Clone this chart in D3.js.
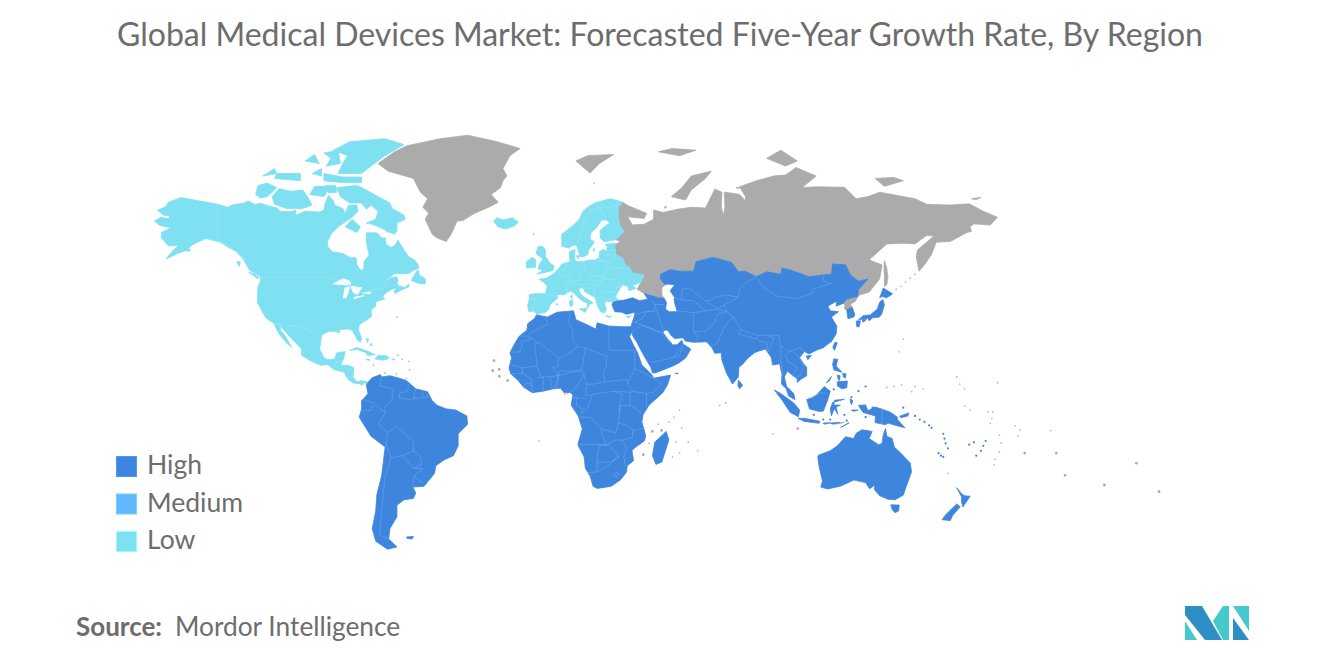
<!DOCTYPE html>
<meta charset="utf-8">
<style>
body { margin:0; background:#fff; overflow:hidden; }
text { font-family: Lato, "Open Sans", sans-serif; fill:#6d6d6d; }
</style>
<body>
<svg id="map" width="1320" height="665"></svg>
<script src="https://cdn.jsdelivr.net/npm/d3@7"></script>
<script>

var titleText = "Global Medical Devices Market: Forecasted Five-Year Growth Rate, By Region";
var legendLabels = ["High", "Medium", "Low"];
var legendColors = ["#3e85de", "#64b8ff", "#7fe0f2"];

var lowRegions = [
  // north america
  [[-168,65.6],[-165,66.5],[-162,66.1],[-161.5,66.9],[-164,67],[-166.7,68.3],[-163.5,69],[-162,70.2],[-156.7,71.3],[-152,70.8],[-148,70.4],[-141,69.7],[-137,69],[-134.5,69.6],[-130,70],[-128,70.5],[-125,69.6],[-123,70],[-120,69.4],[-116,68.8],[-114.5,68],[-110,67.9],[-108,68.3],[-108,67],[-104,68],[-98,67.8],[-96,68.3],[-95.5,70],[-94,71.8],[-92,70.5],[-91.5,69.5],[-88,68.7],[-87,67.5],[-85.5,69.5],[-82,69.5],[-81.5,68],[-84,66.5],[-87,65.3],[-90,64],[-93,62],[-94.5,60],[-94.5,58.7],[-92.5,57],[-88,56.5],[-85,55.3],[-82.3,55.2],[-82,53],[-80.5,51.3],[-79,51.5],[-79,54],[-76.8,56],[-77.5,58],[-78,60],[-78,62.4],[-73.5,62.4],[-71.5,61],[-70,61],[-69.5,59],[-67.5,58.3],[-66,58.8],[-64.5,60.3],[-62,57.5],[-60,55.5],[-57.5,54.5],[-56,53],[-55.7,52],[-58,51.2],[-60,50.2],[-66,50.2],[-69,48.5],[-71,46.8],[-68,48.8],[-65,49.2],[-64.5,48],[-65,47],[-64,46],[-61.5,45.7],[-60,46.8],[-60,45.8],[-63.5,44.6],[-65.8,43.5],[-66.2,44.5],[-64.5,45.5],[-67,45],[-69,44],[-70.5,43.2],[-71,42],[-70,41.7],[-74,40.6],[-74,39],[-75.5,38],[-76,37],[-75.7,35.3],[-77.5,34],[-79,33.3],[-81,32],[-81.3,30],[-80,26.8],[-80.5,25.2],[-81.7,26],[-82.8,28],[-84,30],[-86,30.4],[-89.5,30.2],[-89.3,29],[-91.5,29.5],[-94,29.6],[-97,28],[-97.3,25.5],[-97.8,22.5],[-96,19],[-94.5,18.2],[-91.5,18.5],[-90.5,21],[-87,21.5],[-87.5,19],[-88.2,17.5],[-88.8,15.9],[-86,15.9],[-83.3,15],[-83.6,11],[-82,9],[-79.7,9.5],[-77.4,8.7],[-77.9,7.2],[-78.8,8.8],[-80,7.3],[-80.5,8.2],[-83,8.2],[-85.7,10],[-87.5,13],[-91.5,14],[-94.5,16.2],[-97,15.8],[-101.5,17.6],[-105.5,20],[-105.5,22.5],[-109,26],[-112.5,29.5],[-114.7,31.7],[-114.4,30],[-112.5,27.8],[-110.5,24.5],[-109.5,23.2],[-112,25],[-115,28.5],[-116.5,31],[-117.1,32.5],[-120.5,34.5],[-122.5,37.5],[-124.3,40.5],[-124,46],[-122.8,48],[-123,49.2],[-125,50.3],[-127.5,51.2],[-130,54.5],[-133,57],[-137,58.5],[-140,59.8],[-146,60.8],[-149,60],[-152,59],[-154,57.5],[-158,56.5],[-163,54.8],[-160,57.5],[-157.5,58.8],[-162,58.7],[-165,61],[-165,62.5],[-161,63.7],[-166,64.5]],
  // arctic islands
  [[-90.5,73.5],[-86,73.8],[-82,74],[-78,73],[-72,71.2],[-68,70],[-67,68.7],[-62,67],[-61.5,66],[-65,65],[-65,63],[-66,62],[-69,62.7],[-71,63.5],[-75,64.6],[-78,65],[-74,66],[-73,68],[-76,69.5],[-78,70],[-85,70],[-89,71.5]],
  [[-117,69.7],[-112,68.7],[-105,68.7],[-101,69.5],[-103,71.5],[-105,73],[-110,72.7],[-115,73.3],[-118,71.5]],
  [[-125,72],[-123,71.2],[-120,71.5],[-116,73.5],[-120,74.5],[-124,74]],
  [[-90,76.5],[-80,76.5],[-76,78],[-70,80],[-62,82],[-70,83],[-85,82.5],[-92,81],[-86,80],[-88,78.5]],
  [[-96,75],[-88,74.6],[-80,74.6],[-80,75.8],[-88,75.8],[-96,76.5]],
  [[-95,78],[-89,78.5],[-90,81],[-96,80.5],[-93,79.5]],
  [[-117,75.5],[-106,75],[-106,76.5],[-116,76.5]],
  [[-102,72],[-96,71.5],[-93,73.8],[-100,73.8]],
  [[-95,74],[-91,74],[-90.5,72.5],[-94,72.3]],
  [[-87,64],[-82,62.5],[-80.5,64],[-84,66]],
  [[-104,79],[-98,78.5],[-100,80.2]],
  [[-122,76],[-116,76.5],[-117,77.5]],
  [[-101,76.5],[-97,76],[-97,77.5]],
  [[-80,70],[-76,69.5],[-78,68.5]],
  [[-59,48],[-57,50.5],[-56,51.5],[-55.5,49.8],[-53,48.5],[-53,46.8],[-55.5,46.9]],
  [[-128,50.7],[-124,48.5],[-123.5,48.8],[-125,50]],
  [[-133,54],[-131.5,54],[-132,52.5]],
  [[-154,58],[-152.5,57.5],[-154,57]],
  // caribbean
  [[-85,22],[-82,23.1],[-77,21.5],[-74.2,20.2],[-77.5,19.9],[-78,21],[-82,22.3]],
  [[-74.4,18.5],[-73,20],[-69,19.7],[-68.4,18.6],[-71,18],[-72,18.1]],
  [[-78.3,18.4],[-76.3,18.2],[-77,17.8]],
  [[-67.2,18.5],[-65.7,18.3],[-66.8,18]],
  [[-78,26.7],[-77,26.5],[-77.5,25]],
  [[-76,24.8],[-75.5,24],[-76.5,24]],
  // europe
  [[-5.5,36],[-7,37.2],[-9,37],[-9.5,39],[-8.8,41.5],[-8.8,43.2],[-5,43.5],[-2,43.4],[-1.2,46],[-2.5,47.3],[-4.7,48.4],[-1.5,48.7],[0,49.4],[1.5,50.2],[3,51.3],[4,52],[5,53.3],[8.5,54],[8.2,57],[10.6,57.7],[10.5,54.8],[11,54],[14,54],[16.5,54.5],[19,54.5],[21,55.2],[21,57],[22.6,57.7],[24,57.2],[24.3,58.3],[23.5,59.2],[28,59.5],[27.5,59],[28,56.2],[31,55],[32,53],[34,52],[35,50.5],[40,49.7],[38.5,47.3],[35,46.3],[36.5,45.3],[33.5,44.5],[33,46],[30.8,46.5],[29.7,45.2],[28.5,43.5],[27.7,42.5],[29,41.2],[26.3,40.6],[24,40.8],[23,40],[24,38],[23,36.5],[21.5,37],[20,39.5],[19.4,41.5],[19,42.2],[15,44],[13.7,45.6],[12.3,45.2],[12.5,44],[14,42.5],[16,41.5],[18.4,40.2],[16.8,39.7],[15.7,38],[16,40],[14,40.8],[12,42],[10.3,43.5],[8.7,44.4],[6,43.1],[3.2,43.2],[3.2,41.9],[0,39.5],[-0.6,37.7],[-2,36.8]],
  // scandinavia
  [[5,58.5],[5,60.5],[5,62],[8,63.5],[10,64.5],[12.5,66],[14,68],[16,69],[19,70],[22,70.5],[25.5,71],[31,70.2],[29,69],[29,66],[30,64],[31.5,62.8],[28,60.5],[23,59.9],[21.3,61],[21.3,63],[23,64],[25.3,65],[24,65.8],[22,65.8],[20,64],[17.5,62.5],[17,60.7],[18.8,59.8],[16.5,57.5],[16,56.2],[14.3,55.5],[12.8,55.5],[11.2,59],[9.5,58.8],[8,58.1],[5.7,58.5]],
  [[-24,65.5],[-22,64],[-19,63.4],[-15,64.3],[-13.5,65.2],[-16,66.4],[-20,65.8],[-22.5,66.4]],
  [[-5.5,50],[1.3,51.2],[1.7,52.7],[0,53.5],[-1.8,55.5],[-2,57.6],[-3.2,58.6],[-5,58.6],[-6,56.5],[-3,54.8],[-4.5,53.3],[-5,51.7],[-3,51.3]],
  [[-10,52],[-6.2,52.2],[-6,54.5],[-7.5,55.3],[-10,54]],
  [[11,55.7],[12.5,56],[12,54.9]],
  [[12.5,38],[15.6,38.2],[15,36.7]],
  [[8.3,41],[9.7,41],[9.5,39.1],[8.5,39]],
  [[8.7,42.6],[9.5,43],[9.3,41.4]],
  [[2.4,39.9],[3.4,39.8],[3,39.3]],
  [[23.6,35.5],[26.2,35.2],[24.7,34.9]],
  [[18.3,57.8],[19,57.9],[18.6,57]],
  [[32.3,35],[34.5,35.6],[33.5,34.7]]
];

var highRegions = [
  // asia
  [[124.4,40],[121.5,39],[121.8,40.8],[119.5,39.8],[118,39],[119,37.3],[122.5,37],[119.5,35],[120.8,33],[121.8,31.5],[121.5,28.5],[119.5,25.5],[118,24.5],[116,23],[113.5,22.2],[110,20.5],[108,21.5],[106,19],[107.5,16.7],[109,15],[109,11.5],[106.5,10],[105,8.7],[105,10.3],[102.5,12],[100.8,13.5],[99.5,11],[100.5,7],[103.5,4],[104,1.4],[101.3,3],[100.3,6],[98.3,8],[98.5,12],[97.5,16.5],[94.5,16],[94,19],[91.5,22.5],[89,21.8],[86.8,21],[84,18.8],[82,16.5],[80.2,15],[80,11],[77.5,8],[75,12.5],[73,18],[72.7,21],[70,20.8],[68.8,23],[66.5,25.4],[61,25.2],[57.5,25.7],[56.5,27],[53,26.7],[51.5,27.8],[50,30],[48.5,30],[48,29],[50,26.5],[51.5,25],[51.6,24.2],[54,24.2],[56,26],[56.5,24.5],[59.8,22.5],[57.7,19],[55,17],[52,15.5],[45,12.8],[43.5,12.7],[42.8,15],[41,18],[39.2,21],[37,25],[35,28],[34.9,29.5],[34.3,31.3],[35.9,35.5],[36,36.8],[32.5,36],[30.5,36.8],[27.5,37],[26.3,39.5],[26.7,40.4],[29,41],[31.5,41.2],[35,42],[38,41],[41.5,41.5],[40,43.5],[46,42],[48.5,41.8],[49.5,40.3],[49,38],[50.5,37],[54,37],[53,40],[52.7,41.5],[53,42],[51,44.5],[53,46.5],[50,46.8],[49,46.5],[46.8,48.5],[47,50],[51,51.5],[55,51],[61,51],[62,54],[69,55.3],[71,55],[77,53.8],[80,50.8],[83,51],[87.5,49.2],[92,50.8],[98,50],[98.5,52],[102,51.4],[106,50.3],[110,49.2],[116,49.8],[119.5,50],[120,53.3],[125.5,53],[127.5,49.8],[131,47.7],[135,48.4],[131,44.9],[130.7,42.5],[128,42],[126,41.5]],
  // africa
  [[-5.8,35.8],[-1,35],[3,36.8],[10,37.3],[11,34],[15,32.4],[19.5,30.4],[20,32.8],[25,31.6],[31,31.3],[34.3,31.3],[34.9,29.5],[34,27.8],[33,28.8],[32.5,29.9],[33.5,28],[35.5,24],[37.2,21],[39,16],[43.2,12],[44,10.5],[51.2,11.8],[50,8],[48,4.5],[42,-1],[39.5,-5],[39,-8],[40.7,-14],[40,-16],[36,-18.8],[34.8,-20],[35.5,-24],[32.8,-26],[32.5,-28.5],[30,-31.5],[26,-34],[20,-34.8],[18.3,-34],[17,-30],[15,-27],[14.5,-22.5],[11.8,-17.5],[13.7,-11],[12,-5.5],[9,-1],[9.7,3.5],[8.5,4.5],[6,4.3],[4.5,6.3],[1,5.9],[-3,5],[-7.5,4.4],[-11.3,6.8],[-13.5,9.5],[-16.7,12.4],[-17.4,14.7],[-16.3,19],[-17,21],[-15,24.7],[-13,27.7],[-9.8,30],[-9.5,32.5],[-6.5,34.5]],
  // south america
  [[-77.4,8.7],[-75.5,10.7],[-72,12],[-71.5,11],[-68,11.5],[-64,10.5],[-61,9.5],[-57,6],[-52,4.8],[-50,1],[-48,-1],[-44,-2.5],[-40,-3],[-35.3,-5.5],[-35,-9],[-39,-13],[-39,-18],[-41,-22],[-45,-23.7],[-48.5,-26],[-49,-29],[-53.5,-34],[-58.3,-34.3],[-57,-36.5],[-58,-38.5],[-62,-39],[-65,-41],[-65,-45],[-68,-49],[-68.5,-52.3],[-65,-54.8],[-69,-55.5],[-74,-53],[-75.5,-49],[-74,-43],[-73.5,-37],[-71.5,-30],[-70,-18.5],[-76,-14],[-81,-6],[-80,-2.5],[-80,1],[-78.5,2.5],[-77.3,4],[-77.9,7.2]],
  [[-61,-51.7],[-58,-51.5],[-58.5,-52.3],[-60.5,-52.2]],
  [[49.3,-12],[50.5,-15.5],[47.5,-24.5],[45,-25.5],[43.5,-22],[44.5,-16.5]],
  [[80,9.7],[81.8,7.5],[80.5,6],[79.8,7.5]],
  [[53.3,12.7],[54.5,12.5],[53.5,12.3]],
  // japan, korea, taiwan, hainan
  [[131,34],[133,35.5],[136,35.8],[139,38],[140,40.5],[141.3,41.4],[142,39.5],[140.8,36],[139.8,35],[137,34.7],[135.5,33.6],[135,34.6],[132.5,34.2]],
  [[140,42],[141.5,45.4],[145.5,43.4],[143,42],[141,42.5]],
  [[130,33.5],[131.8,33.6],[131.3,31.3],[130.3,31.3]],
  [[132.5,34],[134.5,34.2],[133,33]],
  [[126,37.7],[128.3,38.6],[129.4,36],[129,35],[126.5,34.4]],
  [[121,25.2],[122,25],[120.8,22],[120.1,23.3]],
  [[108.8,19.7],[111,19.9],[109.5,18.2]],
  // south east asia
  [[120.5,18.5],[122.2,18.4],[121.5,15.5],[124,13],[120.6,13.9],[120,16.2]],
  [[122,9],[126.3,9.3],[126,6.5],[124,6],[122,7.2]],
  [[117.3,8.5],[119.5,11.2],[118.7,9.5]],
  [[124.3,12.5],[125.7,12.3],[125.4,10.5],[124.6,11]],
  [[122,11.8],[123.2,11.5],[122.9,9.5],[122.3,10.2]],
  [[109,1.5],[111,2],[113,3.2],[116.5,7],[119,5],[117.8,1],[116,-3.5],[114,-3.5],[110.2,-2.5]],
  [[95.3,5.5],[98,4],[103.5,0],[106,-3],[105.5,-5.8],[102,-4],[98.7,1]],
  [[105.3,-6.5],[108,-6.5],[114.5,-7.7],[114.3,-8.6],[108,-7.8]],
  [[119.5,-5.5],[120.4,-3],[121,-2.7],[122.2,-4.8],[121.5,-1.7],[123.3,-0.9],[120.5,-0.9],[120.8,1.2],[125,1.6],[120,0.2],[119,-2.5]],
  [[116,-8.5],[119,-8.4],[116.5,-9]],
  [[119,-8.5],[123,-8.2],[120,-8.9]],
  [[123.5,-10.3],[127,-8.4],[124.3,-9.9]],
  [[127.5,1.8],[128.6,1],[128,-0.7],[127.6,0.4]],
  [[127.9,-3],[130.8,-3],[129,-3.5]],
  // new guinea
  [[131,-1],[134,-0.8],[135,-3.3],[138,-1.7],[141,-2.6],[144.5,-3.9],[147.5,-6],[147.5,-7],[150.7,-10.5],[147,-9.5],[143.5,-8.5],[142.5,-9.2],[138,-8.3],[138.2,-5.5],[133,-4],[132,-2.7]],
  [[148.5,-5.6],[152.3,-4.2],[152,-5.5],[149,-6.2]],
  // australia, nz
  [[113.7,-22.5],[114.2,-26],[115.7,-32],[115,-34.3],[118,-35],[123.5,-33.9],[129,-31.6],[134,-32.6],[135.7,-34.9],[138,-33.5],[137.7,-35.2],[140,-37.5],[143.5,-38.8],[146.5,-39],[150,-37.3],[151.5,-33.5],[153.5,-28.5],[153,-25],[149,-21],[146.2,-18.5],[145.3,-15],[143,-14],[142.5,-10.8],[141.5,-13.5],[141,-17],[139.5,-17.5],[135.5,-15],[136.8,-12],[132.5,-11.3],[130,-12.8],[129,-15],[125.5,-14.2],[122,-18],[119,-20],[114,-21.8]],
  [[144.7,-40.8],[148.3,-40.9],[148,-43],[146.5,-43.6],[145.3,-42.5]],
  [[172.7,-34.5],[174.8,-36.8],[176,-37.5],[178.4,-37.7],[177,-39.5],[175.3,-41.6],[174.8,-39.8],[174.8,-38]],
  [[172.7,-40.5],[174.2,-41.5],[171,-44.5],[170,-46.3],[166.5,-46],[168,-44.3]]
];

var greyRegions = [
  // greenland
  [[-73,78.5],[-68.8,77],[-58,75.5],[-55,72.5],[-52,71],[-54,69],[-51.5,67.5],[-53,66],[-50,62],[-48,61],[-44,60],[-42,62],[-39.5,65.5],[-37,65.7],[-32,67.5],[-26,69],[-22,70.2],[-25,72],[-21,73.5],[-20,75],[-18.3,76],[-20,77.5],[-17,80],[-12.7,81.3],[-22.5,82.5],[-35,83.6],[-46.7,83],[-60.7,81.8],[-66,80.7]],
  // russia
  [[31,70.2],[33,69.4],[41,67.5],[40,66.2],[33,66.6],[35,64.5],[40,64.7],[44,66],[44,68.3],[48,67.7],[54,68.5],[60,69],[66,68.8],[68,71],[70,73.2],[73,72.5],[72.7,69],[73.7,67],[74.3,69],[74,72.5],[77,72.3],[80.5,72],[83,70.5],[83,71.5],[80.5,73.7],[87,74.9],[95,76],[100,76.2],[104.5,77.7],[113,76],[107,73.5],[113,73.7],[125,73.6],[130,71],[135,71.5],[140,72.5],[150,71.5],[155,71],[160,69.7],[170,69.5],[178,69.8],[184,68],[190,66.5],[187,64.5],[180,64.8],[178.3,64],[179,62.8],[177,62.5],[170,60],[164,59.8],[162,56.2],[159,53],[156.7,51],[155.5,55.5],[156,57.5],[163,61.5],[160,61.7],[155,59.3],[150,59.5],[143,59.3],[137,55.5],[135.5,54.7],[138,53.8],[141,53],[140,48.5],[135.5,44],[131.5,43],[130.7,42.5],[131,44.9],[135,48.4],[131,47.7],[127.5,49.8],[125.5,53],[120,53.3],[119.5,50],[116,49.8],[110,49.2],[106,50.3],[102,51.4],[98.5,52],[98,50],[92,50.8],[87.5,49.2],[83,51],[80,50.8],[77,53.8],[71,55],[69,55.3],[62,54],[61,51],[55,51],[51,51.5],[47,50],[46.8,48.5],[49,46.5],[47.5,45.5],[47.5,43],[48.5,41.8],[46,42],[40,43.5],[37,45],[38.5,47.2],[40,49.7],[35,50.5],[34,52],[32,53],[31,55],[28,56.2],[27.5,59],[30,60],[28,60.5],[31.5,62.8],[30,64],[29,66],[29,69]],
  // north korea
  [[130.7,42.4],[129.7,40.8],[127.5,39.7],[128.3,38.6],[126,37.7],[125,38],[125.3,39.5],[124.4,40],[126,41.5],[128,42]],
  [[142,54.3],[143,52],[143.5,49],[143,46.5],[142,46],[142,49],[141.8,52]],
  [[51.5,71.5],[56,73.5],[60,76],[68.5,77],[66,75.5],[60,73],[57.5,70.7]],
  // svalbard, franz josef, severnaya, new siberian, wrangel
  [[11,79],[16,80],[27,80.2],[21,78.5],[17,76.6],[14,77.8]],
  [[46,80.7],[52,81.3],[62,81],[55,80]],
  [[92,79.5],[98,81],[105,79],[100,78]],
  [[138,75.5],[146,75.7],[150,75],[142,73.8]],
  [[179,71],[183,71.3],[181,70.8]],
  [[48.5,69],[49.5,69.2],[49,68.7]],
  [[79,73.5],[81,73.6],[80,73.3]],
  [[120,-8.8],[125,-8.2],[122,-8.9]]
];

var lakes = [
  [[-92,46.8],[-88,48.5],[-85,47.8],[-84.7,46.5],[-87,46.5]],
  [[-87.8,42],[-86.5,42],[-85,45.8],[-87,45.5]],
  [[-84.5,46],[-80,45.5],[-81.7,43.2],[-83.5,43.8]],
  [[-83.3,41.6],[-79,42.8],[-83,42.2]],
  [[-79.5,43.5],[-76.2,43.5],[-76.5,44.2]]
];

var lowBorders = [
  [[-123,49],[-95,49],[-89,48],[-83,46],[-79,43],[-75,45],[-71,45],[-69,47.3],[-67.8,45.7]],
  [[-141,69.7],[-141,60.2],[-137,59],[-130,55]],
  [[-117,32.5],[-108,31.5],[-106.5,31.8],[-101.5,29.7],[-97.2,26]],
  [[-92,14.5],[-91,17],[-89,17.9],[-88.2,16]],
  [[-89,15],[-87.5,13.2]],[[-88.8,15.9],[-85,14],[-83.3,15]],[[-85.7,11],[-83.6,11]],[[-83,8.2],[-82.7,9.5]],
  [[-1.8,43.3],[3,42.4]],[[2.5,51],[6,49.5],[8,49],[7.5,47.5],[6,46],[7.5,43.7]],
  [[-8.8,42],[-6.5,41.7],[-7,39],[-7.4,37.2]],[[7,53.5],[6,51],[6,49.5]],[[9,54.8],[10,54.8]],
  [[14.2,54],[15,51],[12.2,50.3],[13.7,48.6],[10,47.5],[7.5,47.5]],
  [[15,51],[19,49.5],[23,49],[24,50.5],[23.5,54],[19.5,54.4]],
  [[21,56.3],[27,56],[28,56.2]],[[24,57.2],[27.5,57.5]],[[21,55.2],[23.5,54],[26,54],[28,56]],
  [[23.5,52],[31,52]],[[24,50.5],[22,48.3],[27,48.3],[30,46],[28.2,45.5]],
  [[22,48],[20.3,46],[22.5,44.3],[28,43.8]],[[16,48.8],[19,49.5]],[[16,48.8],[17,48],[22,48]],
  [[13.7,46.5],[16,46.8],[20.3,46]],[[7.5,44],[7,46],[10,46.8],[13.7,46.5]],[[13.7,45.5],[16,45.5],[19,45]],
  [[22.5,44.3],[22.5,42],[21,42],[19.4,41.7]],[[22.5,41.3],[26.3,41.5],[28,42]],[[20.5,40],[23,41]],[[19,42.2],[19,45]],
  [[11.2,59],[12.5,61],[14,65],[18,68.5],[21,69]],[[21,69],[24,66]],[[21,69],[25.5,68.9],[29,69.7]],
  [[-6,55],[-7.5,54.2]]
];

var highBorders = [
  [[-1.8,35],[-1.2,32.2],[-5,30.5],[-8.7,28.7]],[[-13,27.7],[-8.7,27.7],[-8.7,26],[-12,26],[-12,23.5],[-13,21.3],[-17,21.3]],
  [[-8.7,27.3],[-4.8,25],[-6.5,25],[-5.5,15.5],[-12,14.8],[-16.5,16]],[[-4.8,25],[1,21],[3.3,19],[4.2,19.2],[5.8,19.5],[12,23.5]],
  [[8.5,37],[8,33],[9.5,30],[10,25.3],[12,23.5]],[[25,31.6],[25,22]],[[25,20],[24,19.5],[15,23],[12,23.5]],[[25,22],[37,22]],
  [[24,19.5],[24,15.7],[22.5,13],[23.5,9]],[[3.3,19],[3.5,15.5],[1,15],[3.6,11.7]],[[15,23],[13.5,14],[3.6,11.7]],
  [[3,6.4],[3.6,11.7],[4,13.5],[13.5,13.5],[14.5,12],[11,6.5],[8.7,4.6]],[[14.5,12],[15.5,8],[18.5,8],[23.5,9]],
  [[12.3,-6],[17,-6],[22,-11],[28,-12.5],[29,-8.5],[29.5,-4.5],[29.5,0],[30.8,3.5],[27,5],[19,3.8],[18,3.5],[16,-2],[13,-4.8]],
  [[15.5,8],[15,3],[18,3.5]],[[9.8,2.3],[15,2]],[[11.3,2.2],[11.3,-1],[14,-2.5],[13,-4.8]],
  [[11.8,-17.3],[24,-17.5],[22,-13],[22,-11]],[[16,-28.7],[20,-28.5],[20,-22],[21,-18],[25,-17.7]],
  [[20,-24.8],[26,-24.5],[29.3,-22.2],[25.3,-17.8]],[[32,-26],[31.3,-22.3],[32.8,-19],[30.5,-15.7],[35,-14.5],[35,-11.5],[40.4,-10.5]],
  [[34,-1],[37.5,-3.3],[39.3,-4.7]],[[29.5,-4.5],[30,-1],[34,-1],[34,4]],[[24,-17.5],[28,-15.5],[30.5,-15.7]],[[29,-8.5],[33,-9.5],[35,-11.5]],
  [[36,14.5],[43,11],[47.5,8],[44,4.5],[41,4],[35,5],[33,8],[36,14.5]],[[41,-1.5],[41,4]],[[27,5],[35,4.5]],[[24,9],[33,10],[33,8]],[[36,22],[36,14.5]],
  [[-16.7,12.4],[-11.5,12.4],[-8,10],[-7.5,4.4]],[[-11.3,6.8],[-10,8.5],[-8,8]],[[-3,5],[-2.8,11],[-5.5,10.5]],[[-12,14.8],[-11.5,12.4]],[[-5.5,15.5],[-4,11.5],[0,11],[3.6,11.7]],[[1,5.9],[0,11]],[[2,6.3],[3.6,11.7]],
  [[27,-29.6],[28.5,-28.6],[29.4,-29.6],[28,-30.6],[27,-29.6]],[[20,-28.5],[25,-25.7],[29.3,-22.2]],
  [[-71.5,11],[-72.5,7.5],[-67,6],[-67,1],[-70,-1.5],[-70,-4.2]],[[-60,8],[-60.5,5],[-64,4],[-64,2],[-59,1.5],[-57,2]],[[-57,6],[-58,2]],[[-54,5.8],[-54,2.3]],[[-52,4],[-52,2.3],[-58,2]],
  [[-79,1.4],[-75,0],[-70,-4.2]],[[-80,-3.5],[-76,-3],[-75,-1]],[[-70,-4.2],[-73,-9],[-70.5,-11],[-69,-12.5],[-69.5,-17.5],[-70.4,-18.4]],
  [[-69,-12.5],[-65,-10],[-60.5,-14],[-58,-16.3],[-58,-20]],[[-69.5,-17.5],[-67.5,-22.8],[-70,-30],[-71,-39],[-72,-47],[-72.5,-51],[-68.5,-52.3]],
  [[-67.5,-22.8],[-62.5,-22],[-58,-20]],[[-62.5,-22],[-58,-27],[-54.5,-25.5],[-55,-22.3],[-58,-20]],[[-58,-27],[-54,-27.2],[-57.8,-30.3],[-58.3,-34]],[[-57.8,-30.3],[-53.5,-33]],
  [[53,42],[56,41.3],[56,45],[59,45.5],[61,44.3],[66,41],[68,41],[71,42.5],[75,43],[80,42.2],[80.5,45],[83,47],[87.5,49.2]],
  [[87.5,49.2],[91,45.5],[96,42.7],[105,41.7],[111.5,43.7],[111.8,45],[119.5,47],[116,47.8],[116,49.8]],
  [[80,42.2],[74,39.5],[75,37],[78,35],[81,30.2],[88,28],[92,28],[97,28],[98,24],[101.5,21.3],[106,23],[108,21.5]],
  [[61,29.5],[66,29.5],[70,33],[71,36],[75,37]],[[61.5,25.2],[63,27],[61,29.5],[61,36.6]],[[68.8,23.8],[71,25],[74.5,32],[78,35]],
  [[44.5,39.7],[46,36],[48,30]],[[54,37.3],[61,36.6],[66,37.3],[61,41],[56,41.3]],[[66,37.3],[71,38],[75,37]],[[66,41],[71,38],[74,39.5]],
  [[39,34.3],[41,37],[44.5,37],[46,36]],[[39,32],[47,29],[48,30]],[[35,29.3],[39,32],[47,29],[51,25]],[[55,22],[52,19],[43,17]],[[52,19],[55,20],[56.5,24.3]],
  [[36,36],[42,37.2],[44.5,37.3],[44.5,39.7],[43.5,41]],[[39,34.3],[36,33],[35.5,33]],[[36,33],[39,32]],[[44.5,39.7],[48.5,39.5]],
  [[88.5,26],[92,25],[92.3,21]],[[81,30.2],[80,28.5],[88,26.5],[88,28]],[[92,28],[95,27],[94,24],[92.3,21]],[[98,24],[98,18],[99,11]],[[101.5,21.3],[100,20],[101,17.5],[105,15],[102.8,11]],[[102,22.3],[105,20],[107.5,16],[106.5,12],[104,10.5]],[[100.3,6.5],[102,6]],
  [[141,-2.6],[141,-9]],[[109.6,2],[115,4.2],[117.5,4.2]]
];

var greyDots = [[150,26.5],[148.3,21.4],[147,45],[149,46],[151,47.5],[153,48.8],[155,50],[143,6.6],[146,7],[149.3,7.7],[155,7],[158.5,6],[153.6,4.8],[172.7,11],[174,8],[176,6],[190,8.6],[176.2,-1.3],[178.4,-3],[186,-3.7],[188,-3.7],[187.6,-6.5],[187,-8.6],[197.5,-9.7],[199.6,-11.4],[198.6,-13.8],[212.6,-11.7],[190.8,-13.6],[191.5,-16.8],[190.8,-20.6],[189,-23.5],[188.5,-25.6],[169,-29],[72,-1],[94.7,-13],[55,-3],[52.6,-6],[55.9,-10.5],[46,-9],[50.5,-8],[42,-17],[62.7,-20],[58.7,-16.5],[55,-21],[52,-22.5],[53.6,-16.5],[74.6,0],[-4.7,-16],[6.4,3.8],[7.5,4],[-65,35],[-64.6,20],[-62.8,18.3],[-60,17.5],[-59.6,14],[-75,16],[-70,12.6],[-65.2,12.2],[-61,10.4],[-7,62],[18.8,74.5]];
var greyBlobs = [[201.6,-21],[215,-21],[218.7,-29.8],[235.4,-33.5],[249,-25],[258.6,-36],[105.2,-10.8],[-23.8,17.8],[-21.6,14.2],[-24.3,13.6],[-21.5,11.3],[-18,9.5],[43.5,-12],[47.4,-11.6],[39.6,-21.6]];
var blueDots = [[134,7],[131,5],[150,-2],[155,-5.5],[157,-7],[159,-8],[161,-9.5],[162,-10.5],[167,-13],[167.5,-15],[168,-17],[169,-19],[165,-21],[166,-22],[167,-22.5],[178,-17.5],[180,-16.5],[181,-22],[183,-20],[184,-18],[185,-16],[120.5,5.8],[128,2.5],[134,-6],[137,-2],[116,-7],[119,-7],[112,-5],[125,-5],[126,-7.5]];

var x = d3.scaleLinear().domain([0, 180]).range([550, 550 + 180 * 2.355]);
var y = d3.scaleLinear().domain([0, 1]).range([403, 403 - 135]);
function miller(lat) {
  var p = lat * Math.PI / 180;
  return 1.25 * Math.log(Math.tan(Math.PI / 4 + 0.4 * p));
}

var proj = d3.geoTransform({
  point: function(lon, lat) { this.stream.point(x(lon), y(miller(lat))); }
});
var path = d3.geoPath(proj);

var svg = d3.select("#map");

function close(ring) { return ring.concat([ring[0]]); }

function drawRegions(rings, color) {
  svg.append("g").selectAll("path").data(rings).enter().append("path")
    .attr("d", function(r) { return path({type: "Polygon", coordinates: [close(r)]}); })
    .attr("fill", color)
    .attr("stroke", color)
    .attr("stroke-linejoin", "round")
    .attr("stroke-width", 0.8);
}

function drawBorders(lines, color) {
  svg.append("path")
    .attr("d", path({type: "MultiLineString", coordinates: lines}))
    .attr("fill", "none")
    .attr("stroke", color)
    .attr("stroke-width", 0.5);
}

function drawDots(points, color, r) {
  path.pointRadius(r);
  svg.append("path")
    .attr("d", path({type: "MultiPoint", coordinates: points}))
    .attr("fill", color);
}

drawRegions(greyRegions, "#ababab");
drawRegions(lowRegions, legendColors[2]);
drawRegions(highRegions, legendColors[0]);
drawRegions(lakes, "#fff");
drawBorders(lowBorders, "#a4e9f6");
drawBorders(highBorders, "#78ace9");
drawDots(greyDots, "#bcbcbc", 0.9);
drawDots(greyBlobs, "#ababab", 1.4);
drawDots(blueDots, legendColors[0], 1.1);

svg.append("text")
  .attr("x", 660).attr("y", 46)
  .attr("text-anchor", "middle")
  .attr("font-size", 32)
  .text(titleText);

var legendY = d3.scalePoint().domain(legendLabels).range([456, 531]);
var legend = svg.selectAll(".legend").data(legendLabels).enter().append("g").attr("class", "legend");
legend.append("rect")
  .attr("x", 116.5).attr("y", function(d) { return legendY(d) + 0.5; })
  .attr("width", 20).attr("height", 20)
  .attr("fill", function(d, i) { return legendColors[i]; })
  .attr("stroke", function(d, i) { return d3.color(legendColors[i]).brighter(0.4); });
legend.append("text")
  .attr("x", 147).attr("y", function(d) { return legendY(d) + 18; })
  .attr("font-size", 26.5)
  .text(function(d) { return d; });

svg.append("text").attr("x", 76).attr("y", 636).attr("font-size", 26).attr("font-weight", 700).text("Source:");
svg.append("text").attr("x", 175).attr("y", 636).attr("font-size", 26.3).text("Mordor Intelligence");

// logo
var logoDark = "#2f8fc4", logoTeal = "#45c9cf";
var logo = [
  {c: logoDark, p: [[1185,606],[1202,606],[1222,640],[1205,640],[1185,615]]},
  {c: logoTeal, p: [[1185,621],[1197,640],[1185,640]]},
  {c: logoTeal, p: [[1213,621],[1223,606],[1229,606],[1229,640],[1223,640]]},
  {c: logoTeal, p: [[1233,606],[1249,606],[1249,631]]},
  {c: logoDark, p: [[1233,618],[1249,640],[1233,640]]}
];
svg.append("g").selectAll("polygon").data(logo).enter().append("polygon")
  .attr("points", function(d) { return d.p.join(" "); })
  .attr("fill", function(d) { return d.c; });

</script>
